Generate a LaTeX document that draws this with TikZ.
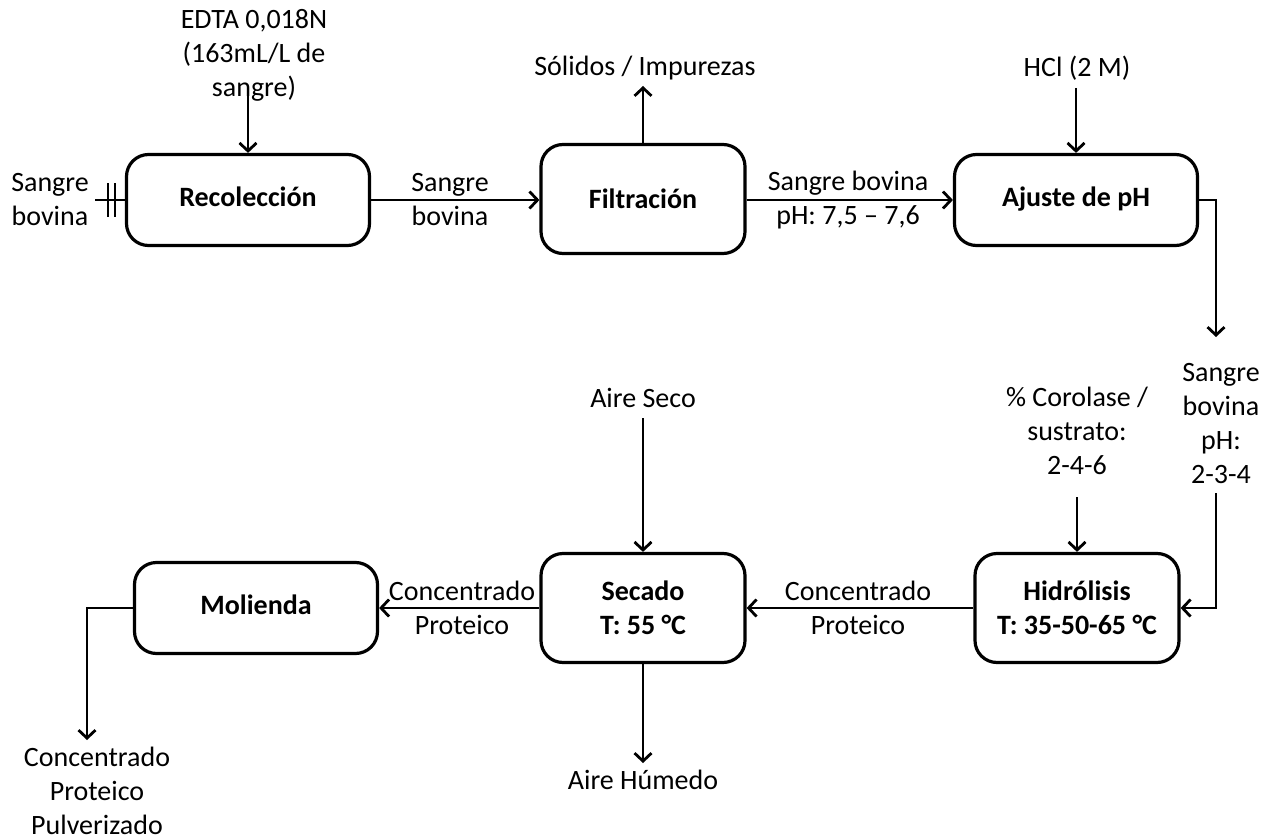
\documentclass[tikz,border=0pt]{standalone}
\usepackage{fontspec}
\setmainfont{Carlito}
\usetikzlibrary{arrows.meta}
\begin{document}
\begin{tikzpicture}[x=1pt,y=-1pt,
  every node/.style={font=\fontsize{28}{34}\selectfont},
  proc/.style={draw, line width=3.2pt, rounded corners=22pt, align=center, inner sep=0,
    font=\fontsize{28}{34}\selectfont\bfseries},
  big/.style={proc, minimum width=243pt, minimum height=91pt, text height=19pt, text depth=6pt},
  small/.style={proc, minimum width=204pt, minimum height=109pt},
  lbl/.style={align=center, inner sep=0},
  flow/.style={line width=2.8pt, -{Straight Barb[length=8pt,width=17pt,line width=2.8pt]}},
  plain/.style={line width=2.8pt}]
\useasboundingbox (0,0) rectangle (1266,840);
% process boxes
\node[big] (rec) at (248,200) {Recolección};
\node[small] (fil) at (643,199) {Filtración};
\node[big] (aju) at (1076,200) {Ajuste de pH};
\node[small] (hid) at (1077,608) {Hidrólisis\\T: 35-50-65 °C};
\node[small] (sec) at (643,608) {Secado\\T: 55 °C};
\node[big] (mol) at (256,608) {Molienda};
% text labels
\node[lbl] (edta) at (254,55) {EDTA 0,018N\\(163mL/L de\\sangre)};
\node[lbl] (sbin) at (50,200) {Sangre\\bovina};
\node[lbl] (l1) at (450,200) {Sangre\\bovina};
\node[lbl] (sol) at (645,68) {Sólidos / Impurezas};
\node[lbl] (l2) at (848,200) {Sangre bovina\\pH: 7,5 -- 7,6};
\node[lbl] (hcl) at (1077,68) {HCl (2 M)};
\node[lbl] (sbph) at (1221,424) {Sangre\\bovina\\pH:\\2-3-4};
\node[lbl] (cor) at (1077,431) {\% Corolase /\\sustrato:\\2-4-6};
\node[lbl] (l3) at (858,608) {Concentrado\\Proteico};
\node[lbl] (aseco) at (643,398) {Aire Seco};
\node[lbl] (ahum) at (643,780) {Aire Húmedo};
\node[lbl] (l4) at (462,608) {Concentrado\\Proteico};
\node[lbl] (cpp) at (97,791) {Concentrado\\Proteico\\Pulverizado};
% coordinates
\coordinate (edtaS) at (248,94);
\coordinate (inS) at (95,200);
\coordinate (b1) at (108,183); \coordinate (b1e) at (108,217);
\coordinate (b2) at (115,183); \coordinate (b2e) at (115,217);
\coordinate (solS) at (643,86);
\coordinate (hclS) at (1076,88);
\coordinate (ajR) at (1216,200);
\coordinate (ajD) at (1216,337);
\coordinate (hidT) at (1216,493);
\coordinate (hidC) at (1216,608);
\coordinate (corS) at (1077,497);
\coordinate (asS) at (643,418);
\coordinate (ahE) at (643,763);
\coordinate (molC) at (87,608);
\coordinate (molE) at (87,740);
% connectors
\draw[flow] (edtaS) -- (rec.north);
\draw[plain] (inS) -- (rec.west);
\draw[line width=2.2pt] (b1) -- (b1e);
\draw[line width=2.2pt] (b2) -- (b2e);
\draw[flow] (rec.east) -- (fil.west |- rec.east);
\draw[flow] (fil.north) -- (solS);
\draw[flow] (fil.east |- aju.west) -- (aju.west);
\draw[flow] (hclS) -- (aju.north);
\draw[flow] (aju.east) -- (ajR) -- (ajD);
\draw[flow] (hidT) -- (hidC) -- (hid.east);
\draw[flow] (corS) -- (hid.north);
\draw[flow] (hid.west) -- (sec.east);
\draw[flow] (asS) -- (sec.north);
\draw[flow] (sec.south) -- (ahE);
\draw[flow] (sec.west) -- (mol.east);
\draw[flow] (mol.west) -- (molC) -- (molE);
\end{tikzpicture}
\end{document}
